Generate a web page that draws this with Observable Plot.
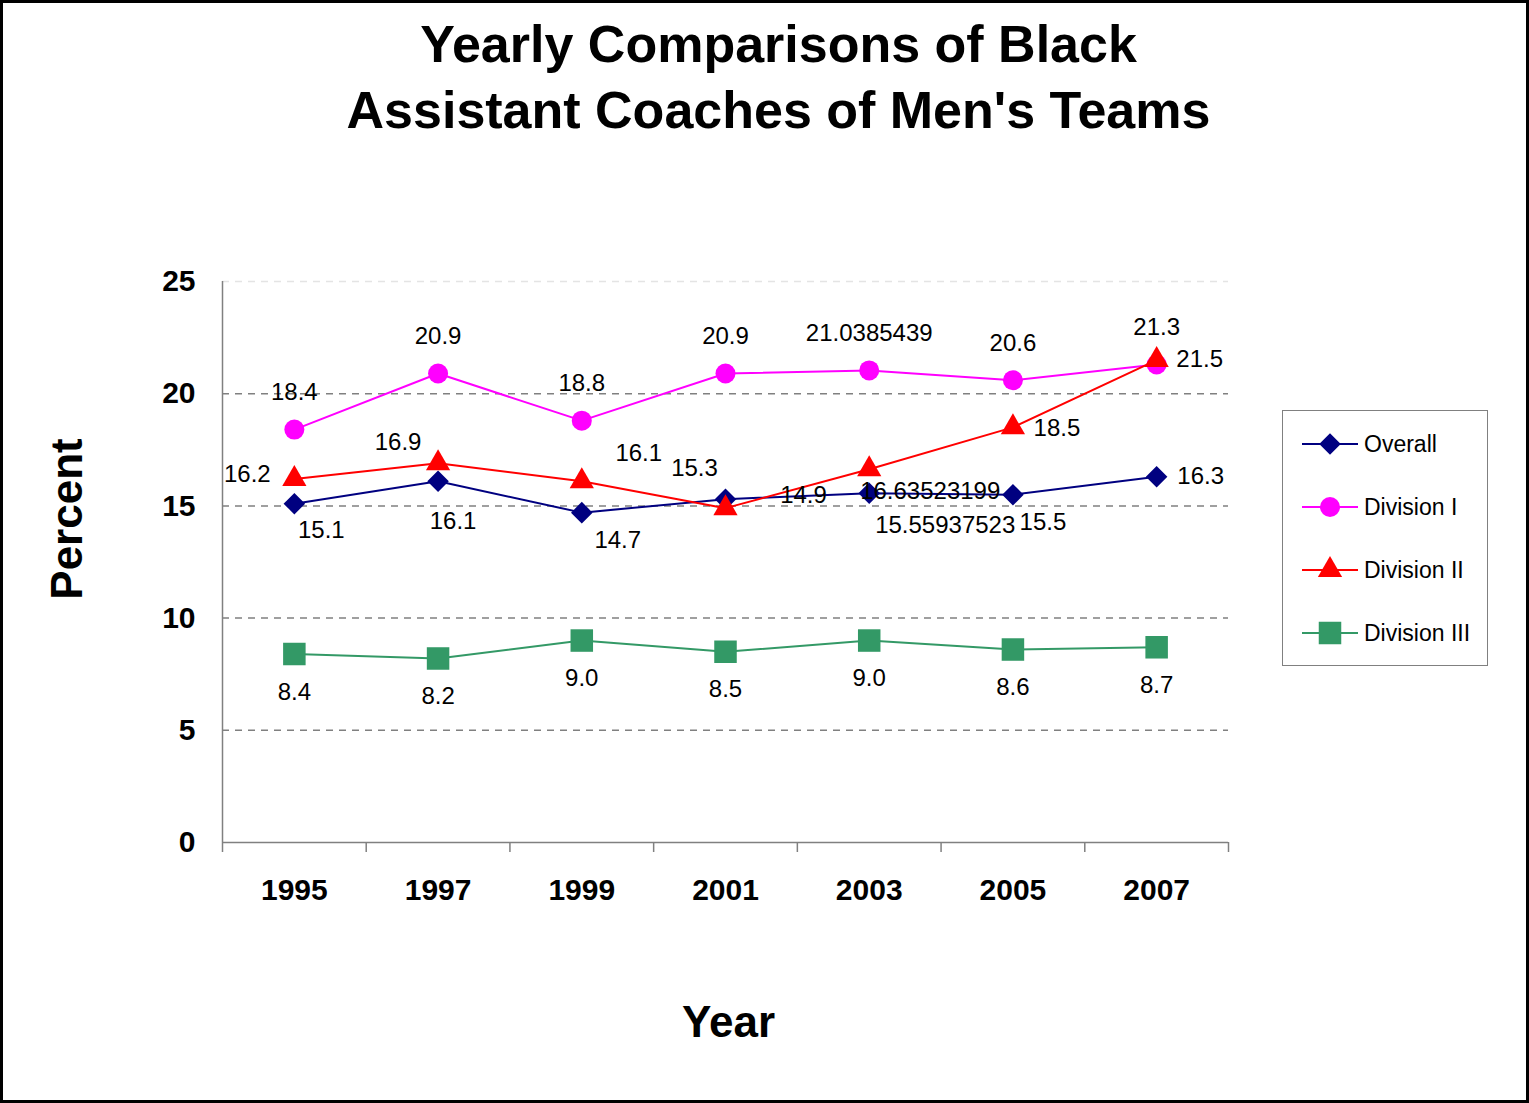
<!DOCTYPE html>
<html>
<head>
<meta charset="utf-8">
<script src="https://cdn.jsdelivr.net/npm/d3@7"></script>
<script src="https://cdn.jsdelivr.net/npm/@observablehq/plot@0.6"></script>
<style>
  html, body { margin: 0; padding: 0; background: #fff; }
  body { font-family: "Liberation Sans", Arial, sans-serif; }
  #wrap { position: relative; width: 1529px; height: 1103px; overflow: hidden; background: #fff; }
  #chart { position: absolute; left: 0; top: 0; }
  #border { position: absolute; left: 0; top: 0; width: 1529px; height: 1103px; box-sizing: border-box; border: 3px solid #000; pointer-events: none; }
  #title { position: absolute; left: 14px; top: 11px; width: 1529px; text-align: center; font-weight: bold; font-size: 52px; line-height: 66px; color: #000; }
  #legend { position: absolute; left: 1282px; top: 410px; width: 206px; height: 256px; box-sizing: border-box; border: 1.5px solid #808080; background: #fff; }
  .item { position: absolute; left: 0; height: 30px; display: flex; align-items: center; }
  .item svg { margin-left: 18px; }
  .item span { font-size: 23px; color: #000; margin-left: 5px; white-space: nowrap; }
</style>
</head>
<body>
<div id="wrap">
  <div id="chart"></div>
  <div id="title">Yearly Comparisons of Black<br>Assistant Coaches of Men's Teams</div>
  <div id="legend"></div>
  <div id="border"></div>
</div>
<script>
// ---- Data ----
const years = [1995, 1997, 1999, 2001, 2003, 2005, 2007];
const seriesNames = ["Overall", "Division I", "Division II", "Division III"];
const overall = [15.1, 16.1, 14.7, 15.3, 15.55937523, 15.5, 16.3];
const divisionI = [18.4, 20.9, 18.8, 20.9, 21.0385439, 20.6, 21.3];
const divisionII = [16.2, 16.9, 16.1, 14.9, 16.63523199, 18.5, 21.5];
const divisionIII = [8.4, 8.2, 9.0, 8.5, 9.0, 8.6, 8.7];
const yTicks = [0, 5, 10, 15, 20, 25];
const yearBoundaries = [1994, 1996, 1998, 2000, 2002, 2004, 2006, 2008];

// ---- Styles / layout ----
const seriesValues = [overall, divisionI, divisionII, divisionIII];
const seriesStyle = [
  {color: "#000080", symbol: "diamond2", r: 9.7},
  {color: "#FF00FF", symbol: "circle", r: 10},
  {color: "#FF0000", symbol: "triangle", r: 9},
  {color: "#339966", symbol: "square", r: 12.7}
];
// label offsets in pixels relative to each point
const labelOffsets = [
  [[27, 27], [15, 40], [36, 28], [-31, -31], [76, 32], [30, 28], [44, 0]],
  [[0, -37], [0, -37], [0, -37], [0, -37], [0, -37], [0, -37], [0, -37]],
  [[-47, -5], [-40, -21], [57, -28], [78, -13], [61, 22], [44, 1], [43, -1]],
  [[0, 38], [0, 38], [0, 38], [0, 38], [0, 38], [0, 38], [0, 38]]
];

function fmt(v) {
  return Math.abs(v * 10 - Math.round(v * 10)) < 1e-9 ? v.toFixed(1) : String(v);
}

const tables = seriesNames.map((name, s) =>
  years.map((year, i) => ({series: name, year, value: seriesValues[s][i]}))
);

const marks = [
  Plot.ruleY([25], {stroke: "#e4e4e4", strokeWidth: 1.3, strokeDasharray: "7,6"}),
  Plot.ruleY(yTicks.filter(t => t > 0 && t < 25), {stroke: "#808080", strokeWidth: 1.5, strokeDasharray: "7,6"}),
  Plot.ruleX([1994], {stroke: "#808080", strokeWidth: 1.5}),
  Plot.ruleY([0], {stroke: "#808080", strokeWidth: 1.5}),
  Plot.axisX({ticks: yearBoundaries, tickSize: 10, tickFormat: () => "", stroke: "#808080", strokeWidth: 1.5, label: null}),
  Plot.axisX({ticks: years, tickSize: 0, tickPadding: 36, tickFormat: d => String(d), fontSize: 30, fontWeight: "bold", fill: "#000", label: null}),
  Plot.axisY({ticks: yTicks, tickSize: 0, tickPadding: 27, fontSize: 30, fontWeight: "bold", fill: "#000", label: null}),
  Plot.text(["Percent"], {frameAnchor: "left", textAnchor: "middle", lineAnchor: "middle", rotate: -90, dx: -155, dy: -43, fontSize: 44, fontWeight: "bold", fill: "#000"}),
  Plot.text(["Year"], {frameAnchor: "bottom", textAnchor: "middle", lineAnchor: "middle", dx: 3, dy: 180, fontSize: 44, fontWeight: "bold", fill: "#000"})
];

tables.forEach((rows, s) => {
  const st = seriesStyle[s];
  marks.push(Plot.line(rows, {x: "year", y: "value", stroke: st.color, strokeWidth: 2}));
  marks.push(Plot.dot(rows, {x: "year", y: "value", symbol: () => st.symbol, r: st.r, fill: st.color, stroke: "none"}));
});
tables.forEach((rows, s) => {
  rows.forEach((row, i) => {
    const [dx, dy] = labelOffsets[s][i];
    marks.push(Plot.text([row], {x: "year", y: "value", text: d => fmt(d.value), dx, dy, fontSize: 24, fill: "#000"}));
  });
});

const chart = Plot.plot({
  width: 1529,
  height: 1103,
  marginLeft: 222,
  marginRight: 301,
  marginTop: 281,
  marginBottom: 261,
  style: {fontFamily: "'Liberation Sans', Arial, sans-serif", background: "transparent", color: "#000", overflow: "visible"},
  x: {type: "linear", domain: [1994, 2008]},
  y: {type: "linear", domain: [0, 25]},
  symbol: {type: "identity"},
  marks
});
document.getElementById("chart").appendChild(chart);

// ---- Legend ----
const legend = document.getElementById("legend");
const symbolMap = {diamond2: d3.symbolDiamond2, circle: d3.symbolCircle, triangle: d3.symbolTriangle, square: d3.symbolSquare};
const legendTops = [18, 81, 144, 207];
seriesNames.forEach((name, s) => {
  const st = seriesStyle[s];
  const item = document.createElement("div");
  item.className = "item";
  item.style.top = legendTops[s] + "px";
  const path = d3.symbol(symbolMap[st.symbol], st.r * st.r * Math.PI)();
  item.innerHTML = `<svg width="58" height="30" viewBox="0 0 58 30">
    <line x1="1" x2="57" y1="15" y2="15" stroke="${st.color}" stroke-width="2"/>
    <path d="${path}" transform="translate(29,15)" fill="${st.color}"/>
  </svg><span>${name}</span>`;
  legend.appendChild(item);
});
</script>
</body>
</html>
